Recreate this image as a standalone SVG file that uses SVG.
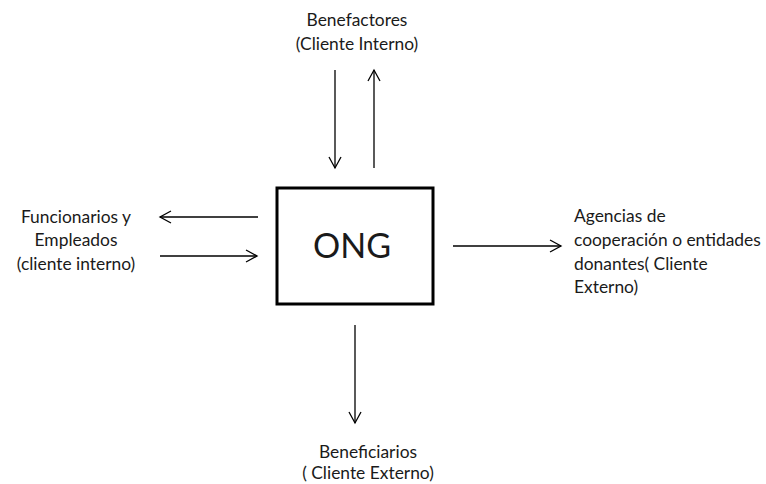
<svg xmlns="http://www.w3.org/2000/svg" width="766" height="484" viewBox="0 0 766 484">
<defs>
<style>
.t{font-family:Lato,"Open Sans","Liberation Sans",sans-serif;font-size:17.4px;fill:#1a1a1a}
.c{text-anchor:middle}
.ln{stroke:#000;stroke-width:1.3;fill:none;marker-end:url(#ah)}
</style>
<marker id="ah" markerWidth="14" markerHeight="14" refX="12" refY="7" orient="auto" markerUnits="userSpaceOnUse">
<path d="M1,1 L12,7 L1,13" fill="none" stroke="#000" stroke-width="1.3"/>
</marker>
</defs>
<rect width="766" height="484" fill="#fff"/>
<g id="ong">
<rect x="277" y="188" width="156" height="116" fill="#fff" stroke="#000" stroke-width="3"/>
<text x="352" y="258" class="t c" style="font-size:34px">ONG</text>
</g>
<g id="benefactores">
<text x="357" y="26" class="t c">Benefactores</text>
<text x="357" y="50" class="t c">(Cliente Interno)</text>
</g>
<g id="funcionarios">
<text x="76" y="223" class="t c">Funcionarios y</text>
<text x="76" y="246" class="t c">Empleados</text>
<text x="76" y="270" class="t c">(cliente interno)</text>
</g>
<g id="agencias">
<text x="574" y="222" class="t">Agencias de</text>
<text x="574" y="246" class="t">cooperación o entidades</text>
<text x="574" y="270" class="t">donantes( Cliente</text>
<text x="574" y="293" class="t">Externo)</text>
</g>
<g id="beneficiarios">
<text x="368" y="458" class="t c">Beneficiarios</text>
<text x="368" y="479" class="t c">( Cliente Externo)</text>
</g>
<g id="connectors">
<line x1="335" y1="70" x2="335" y2="168" class="ln"/>
<line x1="374" y1="168" x2="374" y2="70" class="ln"/>
<line x1="258" y1="217" x2="160" y2="217" class="ln"/>
<line x1="160" y1="256" x2="257" y2="256" class="ln"/>
<line x1="453" y1="246" x2="561" y2="246" class="ln"/>
<line x1="355" y1="325" x2="355" y2="423" class="ln"/>
</g>
</svg>
